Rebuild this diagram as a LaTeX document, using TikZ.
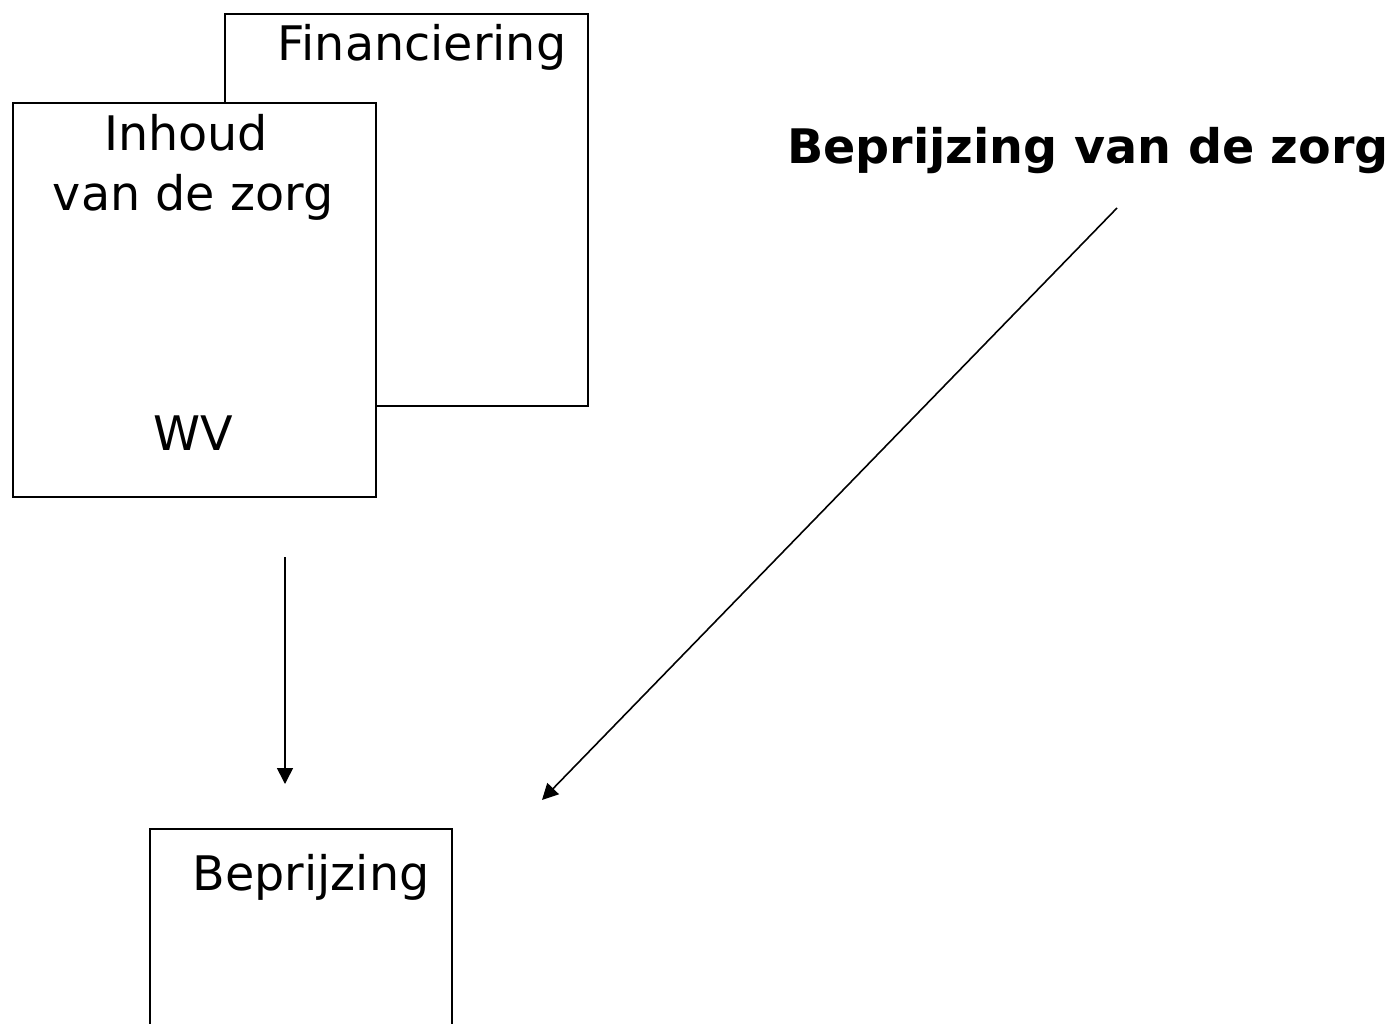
\documentclass[tikz,border=0pt]{standalone}
\usepackage{fontspec}
\setmainfont{DejaVu Sans}
\usetikzlibrary{arrows.meta}
\tikzset{
	blok/.style={draw, fill=white, line width=1.6pt, rectangle, inner sep=0pt, anchor=north west},
	tekst/.style={inner sep=0pt, anchor=base, font=\fontsize{47.6}{57}\selectfont},
	pijl/.style={line width=1.6pt, -{Triangle[length=16pt,width=16pt]}}
}
\begin{document}
\begin{tikzpicture}[x=1pt, y=-1pt]
		\clip (0,0) rectangle (1397,1023);
		\fill[white] (0,0) rectangle (1397,1023);
		%boxes
		\node[blok, minimum width=363pt, minimum height=392pt] (fin) at (224, 13){};
		\node[blok, minimum width=363pt, minimum height=394pt] (inh) at (12, 102){};
		\node[blok, minimum width=302pt, minimum height=260pt] (bep) at (149, 828){};
		
		%texts
		\node[tekst] (fintxt) at (422, 60){Financiering};
		\node[tekst] (inh1) at (186, 150){Inhoud};
		\node[tekst] (inh2) at (193, 210){van de zorg};
		\node[tekst] (wv) at (193, 450){WV};
		\node[tekst] (beptxt) at (311, 890){Beprijzing};
		\node[tekst, font=\fontsize{47.6}{57}\selectfont\bfseries] (titel) at (1088, 163){Beprijzing van de zorg};
		
		%arrows
		\coordinate (a1) at (285, 557);
		\coordinate (a2) at (285, 784);
		\coordinate (b1) at (1117, 208);
		\coordinate (b2) at (542, 800);
		\draw[pijl] (a1) -- (a2);
		\draw[pijl] (b1) -- (b2);
		\end{tikzpicture}
\end{document}
